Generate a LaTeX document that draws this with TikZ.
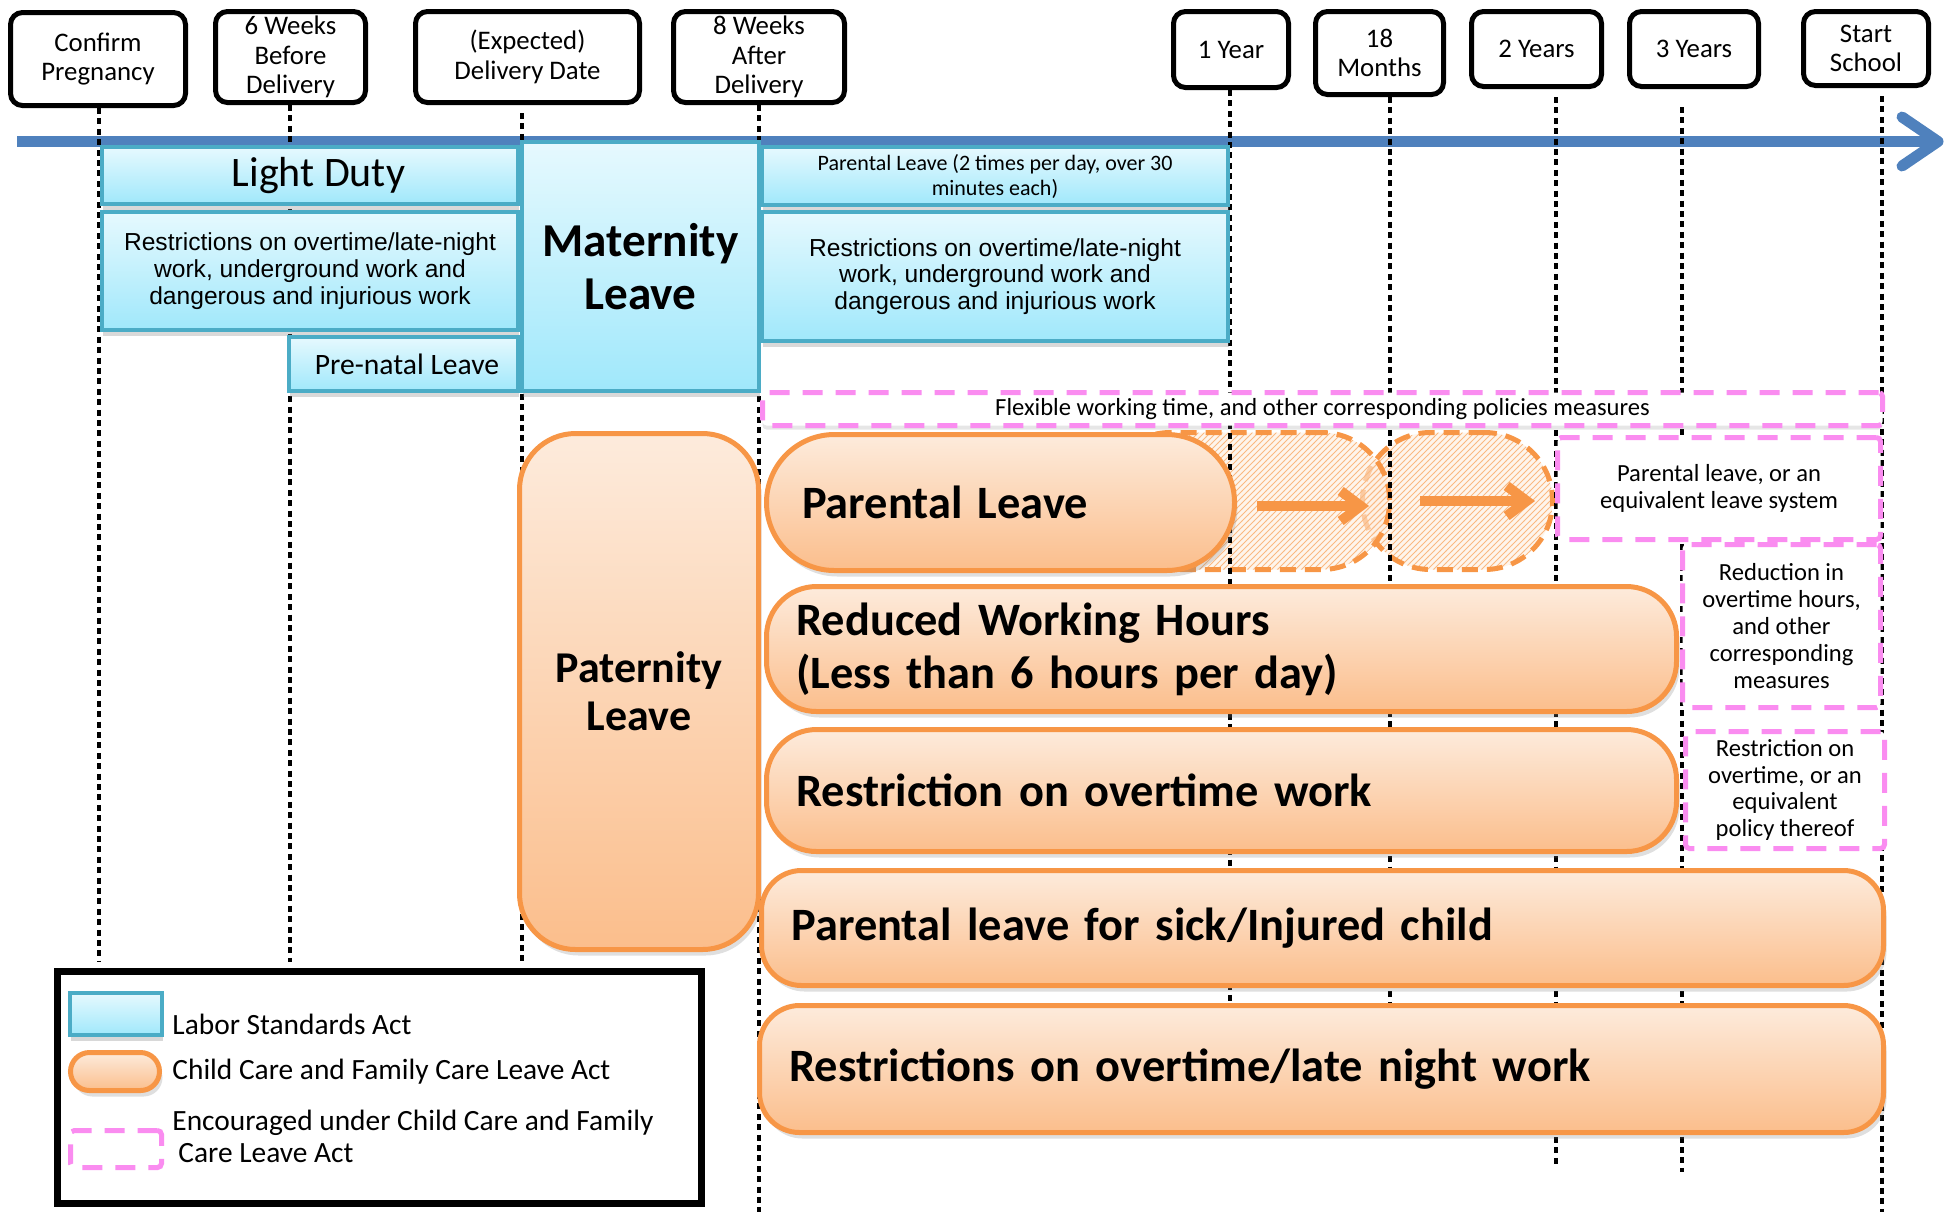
\documentclass[tikz,border=0pt]{standalone}
\usepackage{fontspec}
\setmainfont{Carlito}
\newfontfamily\arialf{Liberation Sans}
\usetikzlibrary{shadows,patterns,arrows.meta}
\definecolor{bluebd}{RGB}{75,172,198}
\definecolor{bluetop}{RGB}{230,249,254}
\definecolor{bluebot}{RGB}{160,232,251}
\definecolor{orbd}{RGB}{247,150,70}
\definecolor{ortop}{RGB}{253,235,220}
\definecolor{orbot}{RGB}{251,190,140}
\definecolor{pinkc}{RGB}{250,140,240}
\definecolor{tlblue}{RGB}{79,129,189}
\definecolor{hatchc}{RGB}{250,185,130}
\definecolor{hatchbg}{RGB}{254,238,224}
\tikzset{
 lbl/.style={draw=black, line width=2.5pt, rounded corners=6pt, fill=white, align=center, inner sep=0pt, font=\fontsize{13.4pt}{14.8pt}\selectfont},
 bluebox/.style={draw=bluebd, line width=2pt, top color=bluetop, bottom color=bluebot, drop shadow={shadow xshift=0.5pt, shadow yshift=-3pt, opacity=0.3}, align=center, inner sep=0pt},
 orbox/.style={draw=orbd, line width=2.5pt, top color=ortop, bottom color=orbot, drop shadow={shadow xshift=1.5pt, shadow yshift=-3pt, opacity=0.25}, inner ysep=0pt, inner xsep=15pt, align=left, font=\bfseries\fontsize{23.2pt}{26.5pt}\selectfont},
 pinkbox/.style={draw=pinkc, line width=2.5pt, dash pattern=on 10pt off 6.5pt, fill=white, rounded corners=2pt, align=center, inner sep=0pt, font=\fontsize{12.3pt}{13.4pt}\selectfont},
 vline/.style={line width=2pt, dash pattern=on 3pt off 2.2pt},
 hatchbox/.style={draw=orbd, line width=2.5pt, dash pattern=on 8pt off 4.5pt, preaction={fill=hatchbg, fill opacity=0.6}, pattern=north east lines, pattern color=hatchc, inner sep=0pt},
 orarrow/.style={draw=orbd, line width=5pt, -{Straight Barb[length=10pt, width=15pt]}},
 timeline/.style={draw=tlblue, line width=5.5pt, line join=round},
 legtext/.style={anchor=west, inner sep=0pt, align=left, font=\fontsize{14.7pt}{16pt}\selectfont}
}
\begin{document}
\begin{tikzpicture}[x=0.5pt,y=-0.5pt]
\useasboundingbox (0,0) rectangle (1946,1217);

% top labels
\node[lbl, minimum width=87.5pt, minimum height=46.5pt] (t1) at (98,59) {Confirm\\Pregnancy};
\node[lbl, minimum width=75pt, minimum height=45.5pt] (t2) at (290.5,57) {6 Weeks\\Before\\Delivery};
\node[lbl, minimum width=112pt, minimum height=45.5pt] (t3) at (527.5,57) {(Expected)\\Delivery Date};
\node[lbl, minimum width=85.5pt, minimum height=45.5pt] (t4) at (759,57) {8 Weeks\\After\\Delivery};
\node[lbl, minimum width=57.5pt, minimum height=38pt] (t5) at (1231,49.5) {1 Year};
\node[lbl, minimum width=64pt, minimum height=41.5pt] (t6) at (1379.5,53) {18\\Months};
\node[lbl, minimum width=65pt, minimum height=37.5pt] (t7) at (1536.5,49) {2 Years};
\node[lbl, minimum width=64.5pt, minimum height=37.5pt] (t8) at (1694,49) {3 Years};
\node[lbl, minimum width=62.5pt, minimum height=37pt] (t9) at (1866,48.5) {Start\\School};

% timeline
\coordinate (tl0) at (17,141.5);
\coordinate (tl1) at (1938,141.5);
\coordinate (ch1) at (1902,117);
\coordinate (ch2) at (1902,166);
\draw[timeline] (tl0) -- (tl1);
\draw[timeline, line cap=round] (ch1) -- (tl1) -- (ch2);

% hatched extensions of parental leave
\node[hatchbox, minimum width=95pt, minimum height=68.5pt, rounded corners=34pt] (h2) at (1457.5,501) {};
\node[hatchbox, minimum width=143.5pt, minimum height=68.5pt, rounded corners=34pt] (h1) at (1246,501) {};
\coordinate (a1s) at (1257,506);
\coordinate (a1e) at (1369,506);
\coordinate (a2s) at (1420,501);
\coordinate (a2e) at (1535,501);
\draw[orarrow] (a1s) -- (a1e);
\draw[orarrow] (a2s) -- (a2e);

% dotted time lines
\coordinate (v1) at (99,962);
\coordinate (v2) at (290,962);
\coordinate (v3) at (522,962);
\coordinate (v4) at (759,1212);
\coordinate (v5) at (1230,1010);
\coordinate (v6) at (1390,1010);
\coordinate (v7) at (1556,1165);
\coordinate (v8) at (1682,1172);
\coordinate (v9) at (1882,1212);
\draw[vline] (v1 |- t1.south) -- (v1);
\draw[vline] (v2 |- t2.south) -- (v2);
\draw[vline] ([yshift=-4pt]v3 |- t3.south) -- (v3);
\draw[vline] (v4 |- t4.south) -- (v4);
\draw[vline] (v5 |- t5.south) -- (v5);
\draw[vline] (v6 |- t6.south) -- (v6);
\draw[vline] ([yshift=-4pt]v7 |- t7.south) -- (v7);
\draw[vline] ([yshift=-9pt]v8 |- t8.south) -- (v8);
\draw[vline] ([yshift=-4pt]v9 |- t9.south) -- (v9);

% Labor Standards Act boxes
\node[bluebox, minimum width=208pt, minimum height=28.5pt, font=\fontsize{21pt}{24pt}\selectfont] (ld) at (310,175.5) {\hspace*{8.5pt}Light Duty};
\node[bluebox, minimum width=208pt, minimum height=59pt, font=\arialf\fontsize{12.3pt}{13.4pt}\selectfont] (rl) at (310,271) {Restrictions on overtime/late-night\\work, underground work and\\dangerous and injurious work};
\node[bluebox, minimum width=114.5pt, minimum height=27pt, font=\fontsize{14.8pt}{17pt}\selectfont] (pn) at (403.5,364) {\hspace*{3.5pt}Pre-natal Leave};
\node[bluebox, minimum width=233pt, minimum height=29pt, font=\fontsize{11pt}{12.5pt}\selectfont] (pl2) at (995,176) {Parental Leave (2 times per day, over 30\\minutes each)};
\node[bluebox, minimum width=233pt, minimum height=64.5pt, font=\arialf\fontsize{12.3pt}{13.4pt}\selectfont] (rr) at (995,276.5) {Restrictions on overtime/late-night\\work, underground work and\\dangerous and injurious work};
\node[bluebox, minimum width=118.5pt, minimum height=124.5pt, font=\bfseries\fontsize{23.6pt}{26.5pt}\selectfont] (ml) at (640.5,266.5) {Maternity\\Leave};

% encouraged measures
\node[pinkbox, minimum width=560pt, minimum height=16.5pt, drop shadow={shadow xshift=0pt, shadow yshift=-2pt, opacity=0.2}] (flex) at (1322.5,409) {Flexible working time, and other corresponding policies measures};
\node[pinkbox, minimum width=161.5pt, minimum height=51pt] (pe) at (1719,488.5) {Parental leave, or an\\equivalent leave system};
\node[pinkbox, minimum width=99pt, minimum height=81.5pt] (rd) at (1781.5,626) {Reduction in\\overtime hours,\\and other\\corresponding\\measures};
\node[pinkbox, minimum width=99.5pt, minimum height=58.5pt] (ro) at (1785,790) {Restriction on\\overtime, or an\\equivalent\\policy thereof};

% Child Care and Family Care Leave Act boxes
\node[orbox, minimum width=119.5pt, minimum height=258pt, rounded corners=28pt, align=center, inner xsep=0pt, font=\bfseries\fontsize{22pt}{24pt}\selectfont] (pat) at (639,691.5) {Paternity\\Leave};
\node[orbox, minimum width=234pt, minimum height=68pt, rounded corners=34pt, inner xsep=17.75pt, text width=198.5pt] (pl) at (1000.5,502.5) {Parental Leave};
\node[orbox, minimum width=455pt, minimum height=62.5pt, rounded corners=25pt, text width=425pt] (rw) at (1221.5,649) {Reduced Working Hours\\(Less than 6 hours per day)};
\node[orbox, minimum width=455pt, minimum height=61pt, rounded corners=25pt, text width=425pt] (rot) at (1221.5,790.5) {Restriction on overtime work};
\node[orbox, minimum width=561pt, minimum height=57.5pt, rounded corners=20pt, text width=531pt] (sick) at (1322.5,928) {Parental leave for sick/Injured child};
\node[orbox, minimum width=562pt, minimum height=63.5pt, rounded corners=20pt, text width=532pt] (late) at (1321.5,1069) {Restrictions on overtime/late night work};

% legend
\node[draw=black, fill=white, line width=3.5pt, minimum width=322pt, minimum height=116pt, inner sep=0pt] (leg) at (379.5,1087.5) {};
\node[bluebox, minimum width=46pt, minimum height=21pt] (lg1) at (116,1014) {};
\node[orbox, minimum width=44.5pt, minimum height=19pt, rounded corners=9.5pt, inner xsep=0pt] (lg2) at (115,1071.5) {};
\node[pinkbox, minimum width=45.5pt, minimum height=18.5pt] (lg3) at (116,1149) {};
\node[legtext] (lt1) at (172,1024) {Labor Standards Act};
\node[legtext] (lt2) at (172,1072) {Child Care and Family Care Leave Act};
\node[legtext] (lt3) at (172,1136) {Encouraged under Child Care and Family\\\hspace*{3pt}Care Leave Act};
\end{tikzpicture}
\end{document}
